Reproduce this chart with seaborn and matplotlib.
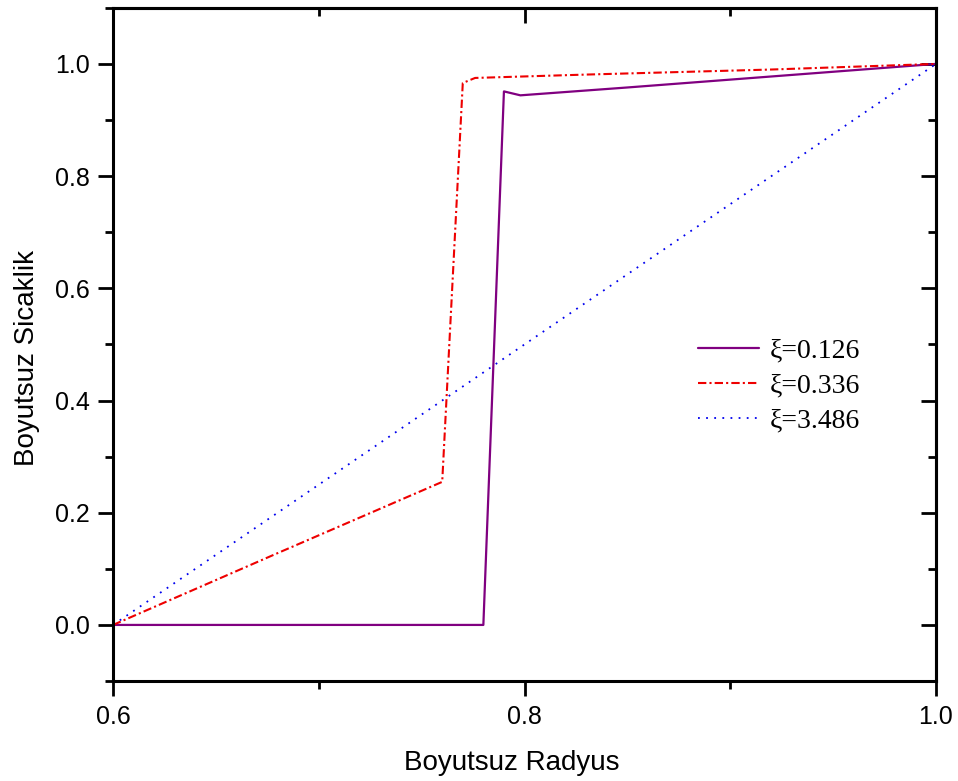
import pandas as pd
import numpy as np
import seaborn as sns
import matplotlib.pyplot as plt
from matplotlib.ticker import MultipleLocator

# values
x_a = [0.6, 0.780, 0.790, 0.798, 0.85, 0.90, 0.95, 1.0]
y_a = [0.0, 0.0, 0.951, 0.944, 0.958, 0.972, 0.986, 1.0]

x_b = [0.6, 0.68, 0.760, 0.770, 0.776, 0.83, 0.92, 1.0]
y_b = [0.0, 0.128, 0.255, 0.966, 0.975, 0.981, 0.990, 1.0]

x_c = [0.6, 1.0]
y_c = [0.0, 1.0]

labels = ['ξ=0.126', 'ξ=0.336', 'ξ=3.486']

sns.set_theme(style='white')
plt.rcParams['font.family'] = ['Liberation Sans', 'DejaVu Sans']
plt.rcParams['text.color'] = 'black'
plt.rcParams['axes.labelcolor'] = 'black'
plt.rcParams['xtick.color'] = 'black'
plt.rcParams['ytick.color'] = 'black'

fig = plt.figure(figsize=(9.58, 7.81), dpi=100)
ax = fig.add_axes([0.118, 0.128, 0.859, 0.862])

sns.lineplot(x=x_a, y=y_a, ax=ax, color='#800080', lw=1.6, sort=False,
             label=labels[0], estimator=None)
sns.lineplot(x=x_b, y=y_b, ax=ax, color='#ee0000', lw=1.5, sort=False,
             label=labels[1], estimator=None)
sns.lineplot(x=x_c, y=y_c, ax=ax, color='#0000ee', lw=1.3, sort=False,
             label=labels[2], estimator=None)
ax.lines[1].set_dashes((4, 1.5, 1, 1.5))
ax.lines[2].set_dashes((1, 3.5))

ax.set_xlim(0.6, 1.0)
ax.xaxis.set_major_locator(MultipleLocator(0.2))
ax.xaxis.set_minor_locator(MultipleLocator(0.1))
ax.yaxis.set_minor_locator(MultipleLocator(0.1))
ax.set_yticks([0.0, 0.2, 0.4, 0.6, 0.8, 1.0])
ax.set_ylim(-0.1, 1.1)

for s in ax.spines.values():
    s.set_visible(True)
    s.set_color('black')
    s.set_linewidth(2.2)

ax.tick_params(which='both', direction='out', color='black', width=2,
               labelsize=18, bottom=True, left=True, top=False, right=False)
ax.tick_params(which='major', length=11, pad=6)
ax.tick_params(which='minor', length=6)
ax.xaxis.set_major_formatter(plt.FormatStrFormatter('%.1f'))
ax.yaxis.set_major_formatter(plt.FormatStrFormatter('%.1f'))

# inward ticks on the top and right edges
top = ax.secondary_xaxis('top')
top.xaxis.set_major_locator(MultipleLocator(0.2))
top.xaxis.set_minor_locator(MultipleLocator(0.1))
top.tick_params(which='both', direction='in', width=2, labeltop=False)
top.tick_params(which='major', length=11)
top.tick_params(which='minor', length=6)
top.spines['top'].set_linewidth(2.2)
right = ax.secondary_yaxis('right')
right.yaxis.set_major_locator(MultipleLocator(0.2))
right.yaxis.set_minor_locator(MultipleLocator(0.1))
right.tick_params(which='both', direction='in', width=2, labelright=False)
right.tick_params(which='major', length=11)
right.tick_params(which='minor', length=6)
right.spines['right'].set_linewidth(2.2)

ax.set_xlabel('Boyutsuz Radyus', fontsize=20)
ax.set_ylabel('Boyutsuz Sicaklik', fontsize=20)
ax.xaxis.set_label_coords(0.485, -0.102)
ax.yaxis.set_label_coords(-0.089, 0.48)

leg = ax.legend(loc='upper left', bbox_to_anchor=(0.68, 0.547), frameon=False,
                prop={'family': ['Liberation Serif', 'DejaVu Serif'], 'size': 20},
                handlelength=2.2, handletextpad=0.4, labelspacing=0.35)

fig.savefig('out.png', dpi=100)
